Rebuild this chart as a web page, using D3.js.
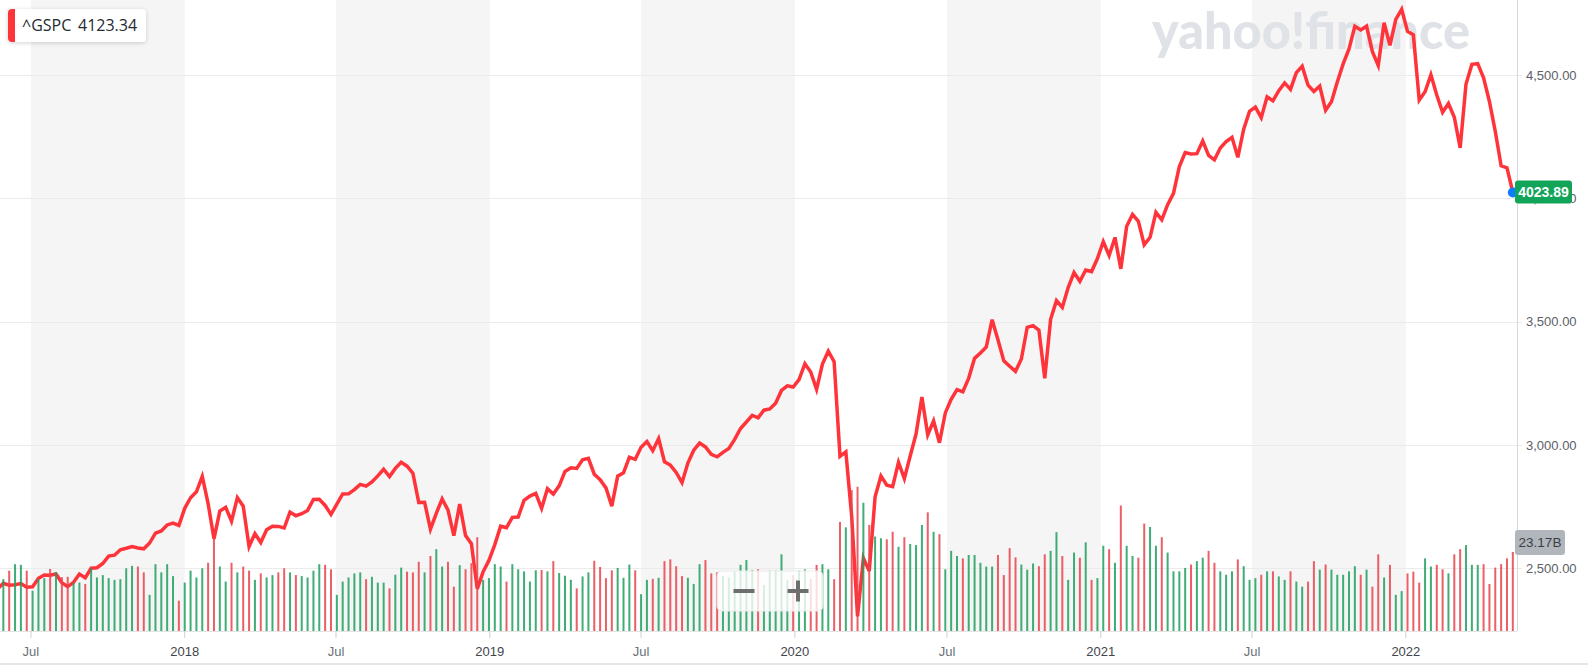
<!DOCTYPE html>
<html>
<head>
<meta charset="utf-8">
<script src="https://cdn.jsdelivr.net/npm/d3@7"></script>
<style>
  html, body { margin: 0; padding: 0; background: #fff; }
  svg { display: block; font-family: "Liberation Sans", Arial, sans-serif; }
</style>
</head>
<body>
<div id="chart"></div>
<script>
// weekly closes of ^GSPC, one value per Monday starting 2017-05-22
const close2017 = [2415.82, 2439.07, 2431.77, 2433.15, 2438.30, 2423.41, 2425.18, 2459.27, 2472.54, 2472.10, 2476.83, 2441.32,
  2425.55, 2443.05, 2476.55, 2461.43, 2500.23, 2502.22, 2519.36, 2549.33, 2553.17, 2575.21, 2581.07, 2587.84, 2582.30, 2578.85,
  2602.42, 2642.22, 2651.50, 2675.81, 2683.34, 2673.61];
const close2018 = [2743.15, 2786.24, 2810.30, 2872.87, 2762.13, 2619.55, 2732.22, 2747.30, 2691.25, 2786.57, 2752.01, 2588.26,
  2640.87, 2604.47, 2656.30, 2670.14, 2669.91, 2663.42, 2727.72, 2712.97, 2721.33, 2734.62, 2779.03, 2779.66, 2754.88, 2718.37,
  2759.82, 2801.31, 2801.83, 2818.82, 2840.35, 2833.28, 2850.13, 2874.69, 2901.52, 2871.68, 2904.98, 2929.67, 2913.98, 2885.57,
  2767.13, 2767.78, 2658.69, 2723.06, 2781.01, 2736.27, 2632.56, 2760.17, 2633.08, 2599.95, 2416.62, 2485.74, 2531.94];
const close2019 = [2596.26, 2670.71, 2664.76, 2706.53, 2707.88, 2775.60, 2792.67, 2803.69, 2743.07, 2822.48, 2800.71, 2834.40,
  2892.74, 2907.41, 2905.03, 2939.88, 2945.64, 2881.40, 2859.53, 2826.06, 2752.06, 2873.34, 2886.98, 2950.46, 2941.76, 2990.41,
  3013.77, 2976.61, 3025.86, 2932.05, 2918.65, 2888.68, 2847.11, 2926.46, 2978.71, 3007.39, 2992.07, 2961.79, 2952.01, 2970.27,
  2986.20, 3022.55, 3066.91, 3093.08, 3120.46, 3110.29, 3140.98, 3145.91, 3168.80, 3221.22, 3240.02, 3234.85];
const close2020 = [3265.35, 3329.62, 3295.47, 3225.52, 3327.71, 3380.16, 3337.75, 2954.22, 2972.37, 2711.02, 2304.92, 2541.47,
  2488.65, 2789.82, 2874.56, 2836.74, 2830.71, 2929.80, 2863.70, 2955.45, 3044.31, 3193.93, 3041.31, 3097.74, 3009.05, 3130.01,
  3185.04, 3224.73, 3215.63, 3271.12, 3351.28, 3372.85, 3397.16, 3508.01, 3426.96, 3340.97, 3319.47, 3298.46, 3348.44, 3477.13,
  3483.81, 3465.39, 3269.96, 3509.44, 3585.15, 3557.54, 3638.35, 3699.12, 3663.46, 3709.41, 3703.06, 3756.07];
const close2021 = [3824.68, 3768.25, 3841.47, 3714.24, 3886.83, 3934.83, 3906.71, 3811.15, 3841.94, 3943.34, 3913.10, 3974.54,
  4019.87, 4128.80, 4185.47, 4180.17, 4181.17, 4232.60, 4173.85, 4155.86, 4204.11, 4229.89, 4247.44, 4166.45, 4280.70, 4352.34,
  4369.55, 4327.16, 4411.79, 4395.26, 4436.52, 4468.00, 4441.67, 4509.37, 4535.43, 4458.58, 4432.99, 4455.48, 4357.04, 4391.34,
  4471.37, 4544.90, 4605.38, 4697.53, 4682.85, 4697.96, 4594.62, 4538.43, 4712.02, 4620.64, 4725.79, 4766.18];
const close2022 = [4677.03, 4662.85, 4397.94, 4431.85, 4500.53, 4418.64, 4348.87, 4384.65, 4328.87, 4204.31, 4463.12, 4543.06,
  4545.86, 4488.28, 4392.59, 4271.78, 4131.93, 4123.34, 4023.89];

// weekly volume, billions
const vol2017 = [15.0, 15.2, 17.7, 19.6, 19.4, 17.7, 11.8, 15.2, 15.5, 18.2, 17.3, 15.8, 15.9, 14.1, 14.2, 13.8, 18.4, 15.7,
  16.4, 15.5, 15.0, 15.2, 18.4, 19.1, 18.9, 17.2, 10.6, 19.6, 17.2, 19.6, 16.1, 8.9];
const vol2018 = [14.2, 17.7, 15.7, 18.4, 20.0, 27.6, 18.9, 14.5, 20.0, 17.2, 18.9, 17.7, 15.0, 16.9, 15.7, 16.4, 17.2, 18.4,
  17.2, 16.4, 16.1, 15.7, 17.7, 19.6, 19.4, 18.1, 10.6, 14.5, 15.7, 16.9, 17.2, 15.2, 15.9, 14.2, 14.2, 12.5, 16.5, 18.6, 17.4,
  17.2, 20.3, 17.2, 22.0, 24.0, 18.9, 20.3, 13.0, 19.3, 18.1, 19.9, 27.5, 15.0, 15.5];
const vol2019 = [19.6, 18.9, 14.5, 19.6, 18.1, 17.5, 14.5, 17.8, 17.9, 17.5, 20.5, 17.0, 16.2, 15.0, 12.5, 16.0, 17.2, 20.6,
  18.8, 15.5, 17.8, 18.5, 15.6, 19.5, 17.8, 10.8, 15.0, 15.3, 15.6, 20.5, 21.0, 19.0, 16.1, 15.6, 13.8, 19.6, 20.8, 16.9, 17.2,
  16.1, 15.7, 17.6, 19.4, 20.8, 17.9, 18.1, 13.5, 17.7, 17.7, 22.5, 14.9, 16.4];
const vol2020 = [17.7, 18.1, 15.2, 19.4, 19.6, 18.1, 15.2, 32.0, 30.4, 41.3, 42.3, 37.6, 31.1, 27.7, 27.2, 26.9, 29.1, 24.7,
  27.5, 25.5, 25.2, 31.1, 34.8, 29.1, 28.4, 18.1, 23.5, 22.0, 21.3, 22.3, 22.3, 20.0, 18.9, 18.9, 22.3, 16.4, 24.3, 21.6, 19.5,
  18.0, 19.8, 19.0, 22.5, 23.5, 29.0, 22.0, 15.0, 23.0, 21.5, 26.0, 15.0, 15.5];
const vol2021 = [25.0, 24.0, 20.0, 36.8, 25.0, 22.0, 21.5, 31.5, 30.5, 25.0, 27.5, 23.0, 17.5, 17.5, 18.5, 19.5, 20.5, 21.5,
  23.5, 20.0, 17.5, 16.5, 17.5, 21.0, 19.0, 15.0, 15.5, 16.5, 17.5, 17.5, 16.0, 15.0, 17.5, 14.5, 13.0, 14.5, 20.5, 18.0, 19.5,
  18.0, 16.5, 16.5, 17.5, 19.0, 16.5, 18.0, 13.0, 22.5, 15.7, 19.4, 10.6, 11.7];
const vol2022 = [16.9, 17.4, 14.2, 21.3, 18.9, 19.4, 18.1, 16.9, 22.5, 24.0, 25.2, 19.4, 19.4, 19.6, 13.8, 18.6, 19.6, 21.3, 23.17];

const yTicks = [2500, 3000, 3500, 4000, 4500];
const symbol = "^GSPC";
const prevClose = "4123.34";
const volumeLabel = "23.17B";

const closes = [].concat(close2017, close2018, close2019, close2020, close2021, close2022);
const volumes = [].concat(vol2017, vol2018, vol2019, vol2020, vol2021, vol2022);
const weeks = d3.timeMonday.range(new Date(2017, 4, 22), new Date(2022, 4, 10));

const data = weeks.map((d, i) => ({
  date: d,
  close: closes[i],
  vol: volumes[i],
  up: i === 0 ? true : closes[i] >= closes[i - 1]
}));

const width = 1588, height = 665;
const plotRight = 1517, plotBottom = 631;

const svg = d3.select("#chart").append("svg")
  .attr("width", width)
  .attr("height", height);

const x = d3.scaleTime()
  .domain([new Date(2017, 4, 25), new Date(2022, 4, 14)])
  .range([0, plotRight]);

const y = d3.scaleLinear()
  .domain([2500, 4500])
  .range([568.3, 75]);

const yVol = d3.scaleLinear()
  .domain([0, 23.17])
  .range([plotBottom, plotBottom - 79]);

const defs = svg.append("defs");
defs.append("clipPath").attr("id", "plot-clip")
  .append("rect").attr("x", 0).attr("y", 0).attr("width", plotRight).attr("height", plotBottom);
const shadow = defs.append("filter").attr("id", "shadow")
  .attr("x", "-20%").attr("y", "-40%").attr("width", "140%").attr("height", "180%");
shadow.append("feDropShadow")
  .attr("dx", 0).attr("dy", 1).attr("stdDeviation", 2)
  .attr("flood-color", "#000").attr("flood-opacity", 0.18);

// half-year shading: Jul -> Jan
const xTicks = x.ticks(d3.timeMonth.every(6));
svg.append("g")
  .selectAll("rect")
  .data(xTicks.filter(d => d.getMonth() === 6))
  .enter().append("rect")
    .attr("x", d => x(d))
    .attr("y", 0)
    .attr("width", d => Math.min(plotRight, x(d3.timeMonth.offset(d, 6))) - x(d))
    .attr("height", plotBottom)
    .attr("fill", "#f5f5f5");

// gridlines + right axis
const yAxis = svg.append("g");
yAxis.selectAll("line.grid")
  .data(yTicks)
  .enter().append("line")
    .attr("class", "grid")
    .attr("x1", 0).attr("x2", plotRight + 5)
    .attr("y1", d => Math.round(y(d)) + 0.5)
    .attr("y2", d => Math.round(y(d)) + 0.5)
    .attr("stroke", "#ebebeb");
yAxis.selectAll("text")
  .data(yTicks)
  .enter().append("text")
    .attr("x", plotRight + 9)
    .attr("y", d => y(d))
    .attr("dy", "0.35em")
    .attr("font-size", 13)
    .attr("fill", "#5b6068")
    .text(d => d3.format(",.2f")(d));

svg.append("line")
  .attr("x1", plotRight + 0.5).attr("x2", plotRight + 0.5)
  .attr("y1", 0).attr("y2", plotBottom)
  .attr("stroke", "#d5d8dc");

// watermark
svg.append("text")
  .attr("x", 1152)
  .attr("y", 49)
  .attr("font-family", "Lato, 'Open Sans', sans-serif")
  .attr("font-weight", 900)
  .attr("font-size", 52)
  .attr("fill", "#dfe2e6")
  .attr("textLength", 318)
  .attr("lengthAdjust", "spacingAndGlyphs")
  .text("yahoo!finance");

const plot = svg.append("g").attr("clip-path", "url(#plot-clip)");

// price line
const line = d3.line()
  .x(d => x(d.date))
  .y(d => y(d.close));

plot.append("path")
  .datum(data)
  .attr("d", line)
  .attr("fill", "none")
  .attr("stroke", "#ff333a")
  .attr("stroke-width", 3.5)
  .attr("stroke-linejoin", "miter");

// volume bars
plot.append("g")
  .selectAll("rect")
  .data(data)
  .enter().append("rect")
    .attr("x", d => x(d.date) - 1)
    .attr("y", d => yVol(d.vol))
    .attr("width", 2)
    .attr("height", d => plotBottom - yVol(d.vol))
    .attr("fill", d => d.up ? "#1f9f5f" : "#e8444c")
    .attr("opacity", 0.85);

// bottom axis
svg.append("line")
  .attr("x1", 0).attr("x2", plotRight)
  .attr("y1", plotBottom + 0.5).attr("y2", plotBottom + 0.5)
  .attr("stroke", "#e3e3e3");

const xAxis = svg.append("g");
xAxis.selectAll("line")
  .data(xTicks)
  .enter().append("line")
    .attr("x1", d => x(d)).attr("x2", d => x(d))
    .attr("y1", plotBottom).attr("y2", plotBottom + 7)
    .attr("stroke", "#d0d0d0");
xAxis.selectAll("text")
  .data(xTicks)
  .enter().append("text")
    .attr("x", d => x(d))
    .attr("y", 656)
    .attr("text-anchor", "middle")
    .attr("font-size", 13)
    .attr("fill", d => d.getMonth() === 0 ? "#3f454b" : "#6a7077")
    .text(d => d.getMonth() === 0 ? d3.timeFormat("%Y")(d) : d3.timeFormat("%b")(d));

svg.append("rect")
  .attr("x", 0).attr("y", 663)
  .attr("width", width).attr("height", 2)
  .attr("fill", "#e6e6e6");

// last price marker
const last = data[data.length - 1];
svg.append("circle")
  .attr("cx", x(last.date))
  .attr("cy", y(last.close))
  .attr("r", 5)
  .attr("fill", "#0f7bff");

svg.append("rect")
  .attr("x", plotRight - 2)
  .attr("y", y(last.close) - 12)
  .attr("width", 57).attr("height", 23)
  .attr("rx", 3)
  .attr("fill", "#12a55a");
svg.append("text")
  .attr("x", plotRight + 26.5)
  .attr("y", y(last.close))
  .attr("dy", "0.36em")
  .attr("text-anchor", "middle")
  .attr("font-size", 14)
  .attr("font-weight", "bold")
  .attr("fill", "#fff")
  .text(d3.format(".2f")(last.close));

// volume marker
svg.append("rect")
  .attr("x", plotRight - 2)
  .attr("y", yVol(last.vol) - 22)
  .attr("width", 50).attr("height", 25)
  .attr("rx", 3)
  .attr("fill", "#b1b5bc");
svg.append("text")
  .attr("x", plotRight + 23)
  .attr("y", yVol(last.vol) - 9.5)
  .attr("dy", "0.36em")
  .attr("text-anchor", "middle")
  .attr("font-size", 13.5)
  .attr("fill", "#3a3f46")
  .text(volumeLabel);

// zoom buttons
const zoomBox = svg.append("g");
zoomBox.append("rect")
  .attr("x", 717).attr("y", 571)
  .attr("width", 106).attr("height", 40)
  .attr("rx", 5)
  .attr("fill", "#fff").attr("fill-opacity", 0.8)
  .attr("stroke", "#ececec");
zoomBox.append("line")
  .attr("x1", 770.5).attr("x2", 770.5)
  .attr("y1", 575).attr("y2", 607)
  .attr("stroke", "#efefef");
zoomBox.append("rect").attr("x", 733.5).attr("y", 589).attr("width", 21).attr("height", 4).attr("fill", "#6e6e6e");
zoomBox.append("rect").attr("x", 787.5).attr("y", 589).attr("width", 21).attr("height", 4).attr("fill", "#6e6e6e");
zoomBox.append("rect").attr("x", 796).attr("y", 580.5).attr("width", 4).attr("height", 21).attr("fill", "#6e6e6e");

// symbol badge
const badge = svg.append("g");
badge.append("rect")
  .attr("x", 8).attr("y", 9)
  .attr("width", 138).attr("height", 33)
  .attr("rx", 4)
  .attr("fill", "#fff")
  .attr("filter", "url(#shadow)");
badge.append("path")
  .attr("d", "M15,9 L12,9 Q8,9 8,13 L8,38 Q8,42 12,42 L15,42 Z")
  .attr("fill", "#ff333a");
badge.append("text")
  .attr("x", 22).attr("y", 31)
  .attr("font-family", "'Open Sans', sans-serif")
  .attr("font-size", 16)
  .attr("fill", "#232a31")
  .text(symbol);
badge.append("text")
  .attr("x", 78).attr("y", 31)
  .attr("font-family", "'Open Sans', sans-serif")
  .attr("font-size", 16)
  .attr("fill", "#232a31")
  .text(prevClose);
</script>
</body>
</html>
